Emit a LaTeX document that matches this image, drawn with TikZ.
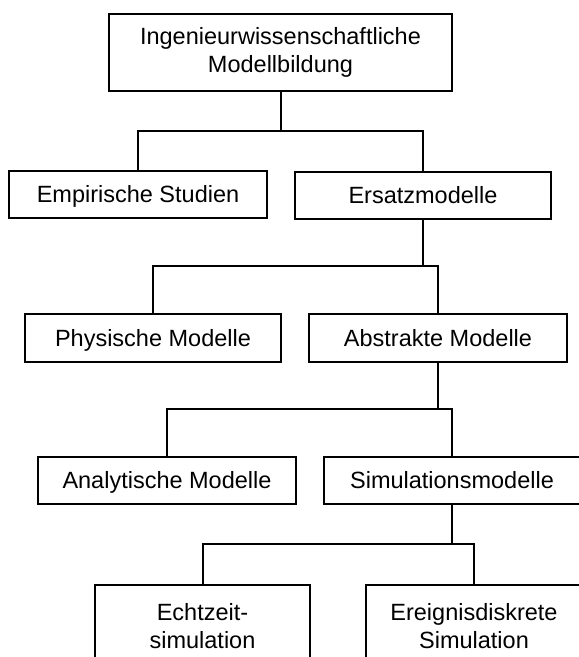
\documentclass[tikz,border=0pt]{standalone}
\usepackage{fontspec}
\setmainfont{Liberation Sans}
\begin{document}
\begin{tikzpicture}[x=1pt,y=-1pt,
  box/.style={draw, line width=2pt, inner sep=0pt, align=center,
    font=\fontsize{23.5}{28}\selectfont},
  onebox/.style={box, text height=16.8pt, text depth=0pt},
  link/.style={line width=2pt}]
\useasboundingbox (0,0) rectangle (579,657);
\clip (0,0) rectangle (579,657);
\fill[white] (0,0) rectangle (579,657);

\node[box, minimum width=343pt, minimum height=77pt] (top) at (280.5,52.5)
  {\raisebox{-5pt}{\begin{tabular}{@{}c@{}}Ingenieurwissenschaftliche\\Modellbildung\end{tabular}}};
\node[onebox, minimum width=258pt, minimum height=47pt] (emp) at (138,194.5) {Empirische Studien};
\node[onebox, minimum width=256pt, minimum height=47pt] (ers) at (423,195) {Ersatzmodelle};
\node[onebox, minimum width=256pt, minimum height=48pt] (phy) at (153,338) {Physische Modelle};
\node[onebox, minimum width=258pt, minimum height=48pt] (abs) at (438,338) {Abstrakte Modelle};
\node[onebox, minimum width=258pt, minimum height=47pt] (ana) at (167,480.5) {Analytische Modelle};
\node[onebox, minimum width=256pt, minimum height=47pt] (sim) at (452,480.5) {Simulationsmodelle};
\node[box, minimum width=215pt, minimum height=82pt] (ech) at (202.5,626) {Echtzeit-\\simulation};
\node[box, minimum width=216pt, minimum height=82pt] (ere) at (474,626) {Ereignisdiskrete\\Simulation};

\coordinate (j1) at (280.5,131);
\coordinate (j2) at (423,266);
\coordinate (j3) at (438,409);
\coordinate (j4) at (452,544);

\draw[link] (top.south) -- (j1);
\draw[link] (emp.north) -- (emp.north |- j1) -- (ers.north |- j1) -- (ers.north);
\draw[link] (ers.south) -- (j2);
\draw[link] (phy.north) -- (phy.north |- j2) -- (abs.north |- j2) -- (abs.north);
\draw[link] (abs.south) -- (j3);
\draw[link] (ana.north) -- (ana.north |- j3) -- (sim.north |- j3) -- (sim.north);
\draw[link] (sim.south) -- (j4);
\draw[link] (ech.north) -- (ech.north |- j4) -- (ere.north |- j4) -- (ere.north);
\end{tikzpicture}
\end{document}
